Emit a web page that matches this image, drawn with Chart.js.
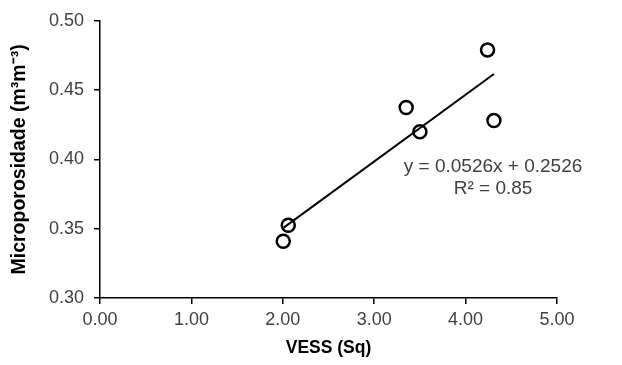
<!DOCTYPE html>
<html>
<head>
<meta charset="utf-8">
<script src="https://cdn.jsdelivr.net/npm/chart.js@4"></script>
<style>
  body { margin: 0; background: #fff; }
  #caja { width: 622px; height: 365px; }
</style>
</head>
<body>
<div id="caja"><canvas id="grafico"></canvas></div>
<script>
// Valores
const vess = [2.005, 2.06, 3.35, 3.50, 4.24, 4.31];
const microporosidad = [0.341, 0.3525, 0.4375, 0.420, 0.479, 0.428];

// Extremos de la línea de tendencia
const tendenciaX = [2.01, 4.31];
const tendenciaY = [0.3508, 0.4616];

const ticksX = [0, 1, 2, 3, 4, 5];
const ticksY = [0.30, 0.35, 0.40, 0.45, 0.50];

const ecuacion = ["y = 0.0526x + 0.2526", "R² = 0.85"];

const puntos = vess.map((x, i) => ({ x, y: microporosidad[i] }));
const lineaTendencia = tendenciaX.map((x, i) => ({ x, y: tendenciaY[i] }));

const fuente = "'Liberation Sans', Arial, sans-serif";

// Texto de la ecuación junto a la recta
const textoEcuacion = {
  id: "textoEcuacion",
  afterDatasetsDraw(chart) {
    const { ctx, scales } = chart;
    ctx.save();
    ctx.font = "19px " + fuente;
    ctx.fillStyle = "#404040";
    ctx.textAlign = "center";
    ctx.textBaseline = "middle";
    const cx = scales.x.getPixelForValue(4.3);
    ctx.fillText(ecuacion[0], cx, scales.y.getPixelForValue(0.3947));
    ctx.fillText(ecuacion[1], cx, scales.y.getPixelForValue(0.3790));
    ctx.restore();
  },
};

new Chart(document.getElementById("grafico").getContext("2d"), {
  type: "scatter",
  data: {
    datasets: [
      {
        type: "line",
        data: lineaTendencia,
        borderColor: "#000",
        borderWidth: 2,
        pointRadius: 0,
        fill: false,
      },
      {
        data: puntos,
        pointRadius: 6.5,
        pointBorderWidth: 2.5,
        borderColor: "#000",
        backgroundColor: "#fff",
      },
    ],
  },
  options: {
    responsive: true,
    maintainAspectRatio: false,
    animation: false,
    layout: { padding: { top: 12, right: 65, bottom: 0, left: 0 } },
    plugins: { legend: { display: false }, tooltip: { enabled: false } },
    scales: {
      x: {
        type: "linear",
        min: 0,
        max: 5,
        afterBuildTicks: (s) => { s.ticks = ticksX.map((v) => ({ value: v })); },
        afterFit: (s) => { s.height = 67; },
        grid: { drawOnChartArea: false, tickLength: 6, color: "#000", lineWidth: 1.5 },
        border: { color: "#000", width: 1.5 },
        ticks: {
          callback: (v) => v.toFixed(2),
          color: "#404040",
          font: { family: fuente, size: 18 },
          padding: 5,
        },
        title: {
          display: true,
          text: "VESS (Sq)",
          color: "#000",
          font: { family: fuente, size: 17.5, weight: "bold" },
          padding: { top: 0, bottom: 6 },
        },
      },
      y: {
        min: 0.3,
        max: 0.5,
        afterBuildTicks: (s) => { s.ticks = ticksY.map((v) => ({ value: v })); },
        afterFit: (s) => { s.width = 100; },
        grid: { drawOnChartArea: false, tickLength: 6, color: "#000", lineWidth: 1.5 },
        border: { color: "#000", width: 1.5 },
        ticks: {
          callback: (v) => v.toFixed(2),
          color: "#404040",
          font: { family: fuente, size: 18 },
          padding: 10,
        },
        title: {
          display: true,
          text: "Microporosidade (m³m⁻³)",
          color: "#000",
          font: { family: fuente, size: 19.5, weight: "bold" },
          padding: { top: 8, bottom: 0 },
        },
      },
    },
  },
  plugins: [textoEcuacion],
});
</script>
</body>
</html>
